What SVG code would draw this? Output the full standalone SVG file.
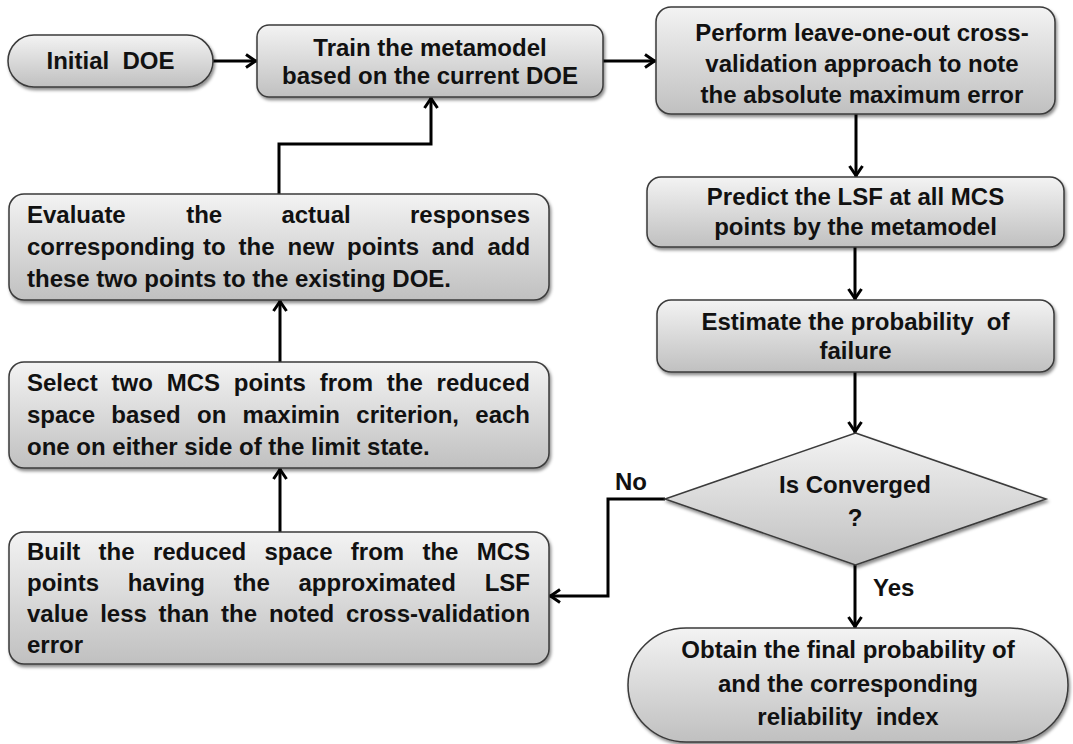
<svg xmlns="http://www.w3.org/2000/svg" width="1073" height="744" viewBox="0 0 1073 744">
<style>
.box{fill:url(#g);stroke:#3a3a3a;stroke-width:1.5;filter:url(#sh)}
.t{font-family:"Liberation Sans",Arial,sans-serif;font-weight:bold;font-size:24px;fill:#111}
.c{text-anchor:middle}
.ln{fill:none;stroke:#000;stroke-width:3}
.ar{marker-end:url(#arr)}
</style>
<defs>
<linearGradient id="g" x1="0" y1="0" x2="0" y2="1">
<stop offset="0" stop-color="#f3f3f3"/>
<stop offset="1" stop-color="#c0c0c0"/>
</linearGradient>
<filter id="sh" x="-5%" y="-5%" width="112%" height="120%">
<feDropShadow dx="1.5" dy="2.5" stdDeviation="1.8" flood-color="#000" flood-opacity="0.45"/>
</filter>
<marker id="arr" markerWidth="16" markerHeight="16" viewBox="-14 -8 16 16" refX="0" refY="0" orient="auto" markerUnits="userSpaceOnUse">
<path d="M-11,-6.5 L-1.5,0 L-11,6.5" fill="none" stroke="#000" stroke-width="3"/>
</marker>
</defs>

<g id="connectors">
<path class="ln ar" d="M213,61 H257"/>
<path class="ln ar" d="M603,61 H656"/>
<path class="ln ar" d="M856,114 V177"/>
<path class="ln ar" d="M855,247 V300"/>
<path class="ln ar" d="M855,372 V433"/>
<path class="ln ar" d="M855,565 V628"/>
<path class="ln ar" d="M665,499 H608 V596 H549"/>
<path class="ln ar" d="M280,532 V468"/>
<path class="ln ar" d="M280,362 V300"/>
<path class="ln ar" d="M279,194 V144 H431 V97"/>
<text class="t" x="615" y="490">No</text>
<text class="t" x="873" y="596">Yes</text>
</g>

<g id="initial">
<rect class="box" x="8" y="35" width="205" height="52" rx="26" ry="26"/>
<text class="t c" x="110.5" y="69" xml:space="preserve">Initial  DOE</text>
</g>

<g id="train">
<rect class="box" x="257" y="25" width="346" height="72" rx="12" ry="12"/>
<text class="t c" x="430" y="56">Train the metamodel</text>
<text class="t c" x="430" y="84">based on the current DOE</text>
</g>

<g id="perform">
<rect class="box" x="656" y="7" width="399" height="107" rx="15" ry="15"/>
<text class="t c" x="862" y="41">Perform leave-one-out cross-</text>
<text class="t c" x="862" y="72">validation approach to note</text>
<text class="t c" x="862" y="103">the absolute maximum error</text>
</g>

<g id="predict">
<rect class="box" x="647" y="177" width="417" height="70" rx="14" ry="14"/>
<text class="t c" x="855.5" y="205">Predict the LSF at all MCS</text>
<text class="t c" x="855.5" y="235">points by the metamodel</text>
</g>

<g id="estimate">
<rect class="box" x="657" y="300" width="397" height="72" rx="14" ry="14"/>
<text class="t c" x="855.5" y="330" xml:space="preserve">Estimate the probability  of</text>
<text class="t c" x="855.5" y="359">failure</text>
</g>

<g id="decision">
<polygon class="box" points="855.5,433 1046,499 855.5,565 665,499"/>
<text class="t c" x="855" y="493">Is Converged</text>
<text class="t c" x="855" y="526">?</text>
</g>

<g id="obtain">
<rect class="box" x="628" y="628" width="440" height="114" rx="58" ry="57"/>
<text class="t c" x="848" y="658">Obtain the final probability of</text>
<text class="t c" x="848" y="692">and the corresponding</text>
<text class="t c" x="848" y="725" xml:space="preserve">reliability  index</text>
</g>

<g id="evaluate">
<rect class="box" x="9" y="194" width="540" height="106" rx="15" ry="15"/>
<text class="t" y="223"><tspan x="27">Evaluate</tspan><tspan x="186.2">the</tspan><tspan x="281.4">actual</tspan><tspan x="410">responses</tspan></text>
<text class="t" y="255"><tspan x="27">corresponding</tspan><tspan x="203.1">to</tspan><tspan x="238.6">the</tspan><tspan x="287.5">new</tspan><tspan x="347">points</tspan><tspan x="431.8">and</tspan><tspan x="487.4">add</tspan></text>
<text class="t" x="27" y="287">these two points to the existing DOE.</text>
</g>

<g id="select">
<rect class="box" x="9" y="362" width="540" height="106" rx="15" ry="15"/>
<text class="t" y="391"><tspan x="27">Select</tspan><tspan x="111.5">two</tspan><tspan x="166.7">MCS</tspan><tspan x="233.8">points</tspan><tspan x="319.7">from</tspan><tspan x="386.8">the</tspan><tspan x="436.6">reduced</tspan></text>
<text class="t" y="423"><tspan x="27">space</tspan><tspan x="111.3">based</tspan><tspan x="197">on</tspan><tspan x="242.6">maximin</tspan><tspan x="356.3">criterion,</tspan><tspan x="475.3">each</tspan></text>
<text class="t" x="27" y="455">one on either side of the limit state.</text>
</g>

<g id="built">
<rect class="box" x="9" y="532" width="540" height="132" rx="15" ry="15"/>
<text class="t" y="560"><tspan x="27">Built</tspan><tspan x="98.6">the</tspan><tspan x="152.9">reduced</tspan><tspan x="264.5">space</tspan><tspan x="350.8">from</tspan><tspan x="422.4">the</tspan><tspan x="476.7">MCS</tspan></text>
<text class="t" y="591"><tspan x="27">points</tspan><tspan x="127.7">having</tspan><tspan x="233.8">the</tspan><tspan x="298.5">approximated</tspan><tspan x="484.7">LSF</tspan></text>
<text class="t" y="622"><tspan x="27">value</tspan><tspan x="100.2">less</tspan><tspan x="158.6">than</tspan><tspan x="221.1">the</tspan><tspan x="268.9">noted</tspan><tspan x="346">cross-validation</tspan></text>
<text class="t" x="27" y="653">error</text>
</g>
</svg>
